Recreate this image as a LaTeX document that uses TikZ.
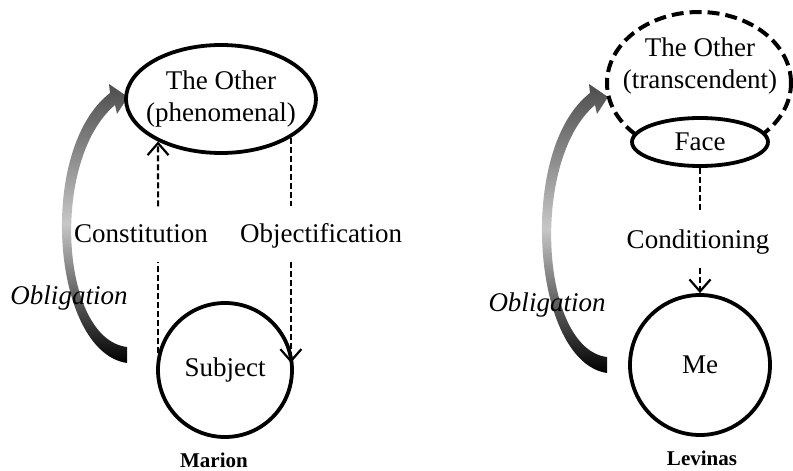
\documentclass[tikz,border=0pt]{standalone}
\usepackage{fontspec}
\setmainfont{Liberation Serif}
\usetikzlibrary{arrows.meta,shapes.geometric}

% gray curved arrow, #1 = x shift, #2 = y of its lower end
\newcommand{\obligarrow}[2]{%
  \shade[shift={(#1,0)},top color=black!70,bottom color=black,middle color=black!22]
    (127,#2) .. controls (52,#2-11) and (36,150) .. (110,93) -- (109,84) -- (128,97)
    -- (117,114) -- (115,105) .. controls (50,160) and (60,#2-24) .. (127,#2-16) -- cycle;}

\begin{document}
\begin{tikzpicture}
	 [x=1pt,y=-1pt,
	  every node/.style={font=\fontsize{27}{32}\selectfont},
	  ring/.style={draw,line width=3.8pt,fill=white,inner sep=0pt},
	  link/.style={line width=2.2pt,dash pattern=on 6pt off 3pt},
	  tip/.style={-{Straight Barb[length=12pt,width=21pt]}},
	  lab/.style={text height=21pt,text depth=4pt,inner ysep=15pt},
	  who/.style={font=\fontsize{21}{24}\selectfont\bfseries}]
	\useasboundingbox (0,0) rectangle (793,471);

	% Marion
	\obligarrow{0}{363}
	\node (obl) at (69,298) {\textit{Obligation}};

	\node (other)[ring,ellipse,minimum width=190pt,minimum height=108pt] at (221,99) {};
	\node (othertxt)[align=center] at (221,99) {The Other\\(phenomenal)};
	\node (subj)[ring,circle,minimum size=134pt] at (225,370) {Subject};

	\node (cons)[lab] at (141,234) {Constitution};
	\node (obj)[lab] at (321,234) {Objectification};

	\draw[link] (subj.166) -- (subj.166 |- cons.south);
	\draw[link,tip] (subj.166 |- cons.north) -- (other.214);
	\draw[link] (other.331) -- (other.331 |- obj.north);
	\draw[link,tip] (other.331 |- obj.south) -- (other.331 |- subj.6);

	\node (marion)[who] at (214,460) {Marion};

	% Levinas
	\obligarrow{480}{373}
	\node (obl1) at (547,305) {\textit{Obligation}};

	\node (transc)[ring,ellipse,fill=none,line width=4pt,dash pattern=on 12pt off 6pt,
	   minimum width=184pt,minimum height=142pt] at (699,83) {};
	\node (transctxt)[align=center] at (700,66) {The Other\\(transcendent)};
	\node (face)[ring,ellipse,minimum width=136pt,minimum height=48pt] at (700,142) {Face};
	\node (me)[ring,circle,minimum size=140pt] at (700,365) {Me};

	\node (cond)[lab] at (698,240) {Conditioning};

	\draw[link] (face.south) -- (face.south |- cond.north);
	\draw[link,tip] (face.south |- cond.south) -- (me.north);

	\node (levinas)[who] at (702,458) {Levinas};

\end{tikzpicture}
\end{document}
